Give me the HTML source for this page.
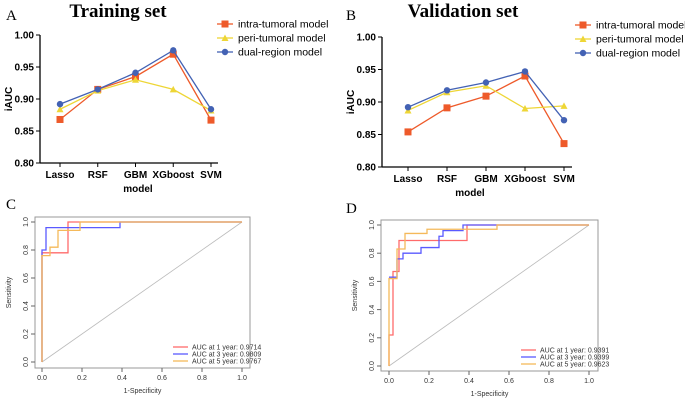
<!DOCTYPE html>
<html><head><meta charset="utf-8"><style>
html,body{margin:0;padding:0;background:#fff;}
svg{display:block;font-family:"Liberation Sans",Arial,sans-serif;}
</style></head><body>
<svg id="fig" width="685" height="400" viewBox="0 0 685 400"></svg>
<script>
const models = ["Lasso","RSF","GBM","XGboost","SVM"];
const seriesNames = ["intra-tumoral model","peri-tumoral  model","dual-region   model"];
const yTicks = [0.80,0.85,0.90,0.95,1.00];
const trainIntra = [0.868,0.915,0.935,0.970,0.867];
const trainPeri = [0.884,0.913,0.930,0.915,0.882];
const trainDual = [0.892,0.915,0.941,0.976,0.884];
const valIntra = [0.854,0.891,0.909,0.940,0.836];
const valPeri = [0.887,0.915,0.925,0.890,0.894];
const valDual = [0.892,0.918,0.930,0.947,0.872];
const rocTicks = [0,0.2,0.4,0.6,0.8,1.0];
const cRedFpr = [0,0,0.13,0.13,1]; const cRedTpr = [0,0.78,0.78,1,1];
const cBlueFpr = [0,0,0.02,0.02,0.39,0.39,1]; const cBlueTpr = [0,0.8,0.8,0.96,0.96,1,1];
const cOrgFpr = [0,0,0.04,0.04,0.08,0.08,0.19,0.19,1]; const cOrgTpr = [0,0.76,0.76,0.82,0.82,0.94,0.94,1,1];
const dRedFpr = [0,0,0.02,0.02,0.05,0.05,0.39,0.39,1]; const dRedTpr = [0,0.22,0.22,0.67,0.67,0.89,0.89,1,1];
const dBlueFpr = [0,0,0.04,0.04,0.07,0.07,0.16,0.16,0.25,0.25,0.27,0.27,0.37,0.37,1]; const dBlueTpr = [0.63,0.63,0.63,0.76,0.76,0.8,0.8,0.84,0.84,0.92,0.92,0.96,0.96,1,1];
const dOrgFpr = [0,0,0.04,0.04,0.08,0.08,0.19,0.19,0.54,0.54,1]; const dOrgTpr = [0,0.62,0.62,0.83,0.83,0.94,0.94,0.97,0.97,1,1];
const cLegend = ["AUC at 1 year: 0.9714","AUC at 3 year: 0.9809","AUC at 5 year: 0.9767"];
const dLegend = ["AUC at 1 year: 0.9391","AUC at 3 year: 0.9399","AUC at 5 year: 0.9623"];

const NS="http://www.w3.org/2000/svg", svg=document.getElementById('fig');
function el(tag,a,parent,txt){const e=document.createElementNS(NS,tag);for(const k in a)e.setAttribute(k,a[k]);if(txt!==undefined)e.textContent=txt;(parent||svg).appendChild(e);return e;}

const COLS=["#ee5a2a","#eed636","#4362b4"];
function linePanel(o){
  const g=el('g',{});
  
  
  const y=v=>o.y1+(1-(v-0.8)/0.2)*(o.y0-o.y1);
  const x=i=>o.xs[0]+i*(o.xs[1]-o.xs[0])/4;
  const t=el('text',{x:o.tx,y:17,'font-family':'Liberation Serif,serif','font-weight':'bold','font-size':19,'text-anchor':'middle'},g,o.title);
  
  const L=el('text',{x:o.lx,y:20,'font-family':'Liberation Serif,serif','font-size':15},g,o.letter);
  
  el('line',{x1:o.ax,y1:y(1.0),x2:o.ax,y2:o.y0,stroke:'#000','stroke-width':1.3},g);
  el('line',{x1:o.ax,y1:o.y0,x2:o.axEnd,y2:o.y0,stroke:'#000','stroke-width':1.3},g);
  yTicks.forEach(v=>{el('line',{x1:o.ax-4,y1:y(v),x2:o.ax,y2:y(v),stroke:'#000'},g);
    const tt=el('text',{x:o.ax-6,y:y(v)+3.5,'font-size':10,'font-weight':'bold','text-anchor':'end'},g,v.toFixed(2));
    });
  models.forEach((m,i)=>{el('line',{x1:x(i),y1:o.y0,x2:x(i),y2:o.y0+4,stroke:'#000'},g);
    const tt=el('text',{x:x(i),y:o.y0+15,'font-size':10,'font-weight':'bold','text-anchor':'middle'},g,m);
    });
  const xl=el('text',{x:o.mx,y:o.y0+29,'font-size':10,'font-weight':'bold','text-anchor':'middle'},g,'model');
  
  const yl=el('text',{x:0,y:0,'font-size':10,'font-weight':'bold','text-anchor':'middle',transform:`translate(${o.ax-28},${(y(1)+o.y0)/2}) rotate(-90)`},g,'iAUC');
  
  o.data.forEach((d,s)=>{
    const pl=el('polyline',{points:d.map((v,i)=>x(i)+','+y(v)).join(' '),fill:'none',stroke:COLS[s],'stroke-width':1.3},g);
    
    d.forEach((v,i)=>marker(g,s,x(i),y(v)));
  });
  seriesNames.forEach((n,s)=>{const ly=o.legY+s*14;
    el('line',{x1:o.legX-8,y1:ly,x2:o.legX+8,y2:ly,stroke:COLS[s],'stroke-width':1.3},g);
    marker(g,s,o.legX,ly);
    const tt=el('text',{x:o.legX+13,y:ly+3.5,'font-size':10.5},g,n);
    });
}
function marker(g,s,cx,cy){let m;
  if(s===0)m=el('rect',{x:cx-3.5,y:cy-3.5,width:7,height:7,fill:COLS[0]},g);
  else if(s===1)m=el('polygon',{points:`${cx},${cy-3.5} ${cx+3.5},${cy+3} ${cx-3.5},${cy+3}`,fill:COLS[1]},g);
  else m=el('circle',{cx:cx,cy:cy,r:3.2,fill:COLS[2]},g);
  }

linePanel({name:'panel-a-training',title:'Training  set',letter:'A',tx:118,lx:6,ax:40,axEnd:218,y0:163,y1:35,xs:[60,211],mx:138,legX:225,legY:24,data:[trainIntra,trainPeri,trainDual]});
linePanel({name:'panel-b-validation',title:'Validation  set',letter:'B',tx:463,lx:346,ax:382,axEnd:572,y0:167,y1:37,xs:[408,564],mx:470,legX:583,legY:25,data:[valIntra,valPeri,valDual]});

const RC=["#ff6b6b","#5a5aff","#f5b95a"];
function rocPanel(o){
  const g=el('g',{});
  
  
  const x=v=>o.x0+v*(o.x1-o.x0), y=v=>o.y0-v*(o.y0-o.y1);
  const L=el('text',{x:o.lx,y:o.ly,'font-family':'Liberation Serif,serif','font-size':15},g,o.letter);
  
  el('rect',{x:o.bl,y:o.bt,width:o.br-o.bl,height:o.bb-o.bt,fill:'none',stroke:'#999','stroke-width':1},g);
  el('line',{x1:x(0),y1:y(0),x2:x(1),y2:y(1),stroke:'#bbb','stroke-width':0.8},g);
  rocTicks.forEach(v=>{
    el('line',{x1:x(v),y1:o.bb,x2:x(v),y2:o.bb+4,stroke:'#666'},g);
    const a=el('text',{x:x(v),y:o.bb+12,'font-size':7,'text-anchor':'middle',fill:'#333'},g,v.toFixed(1));
    
    el('line',{x1:o.bl-4,y1:y(v),x2:o.bl,y2:y(v),stroke:'#666'},g);
    const b=el('text',{x:0,y:0,'font-size':7,'text-anchor':'middle',fill:'#333',transform:`translate(${o.bl-7},${y(v)}) rotate(-90)`},g,v.toFixed(1));
    });
  const xt=el('text',{x:(o.bl+o.br)/2,y:o.bb+25,'font-size':7,'text-anchor':'middle',fill:'#333'},g,'1-Specificity');
  
  const yt=el('text',{x:0,y:0,'font-size':7,'text-anchor':'middle',fill:'#333',transform:`translate(${o.bl-24},${(o.bt+o.bb)/2}) rotate(-90)`},g,'Sensitivity');
  
  o.curves.forEach((c,s)=>{
    const pl=el('polyline',{points:c[0].map((f,i)=>x(f)+','+y(c[1][i])).join(' '),fill:'none',stroke:RC[s],'stroke-width':1.3},g);
    });
  o.legend.forEach((t,s)=>{const ly=o.legY+s*7;
    el('line',{x1:o.legX,y1:ly,x2:o.legX+15,y2:ly,stroke:RC[s],'stroke-width':1.3},g);
    const tt=el('text',{x:o.legX+19,y:ly+2.5,'font-size':7,fill:'#333'},g,t);
    });
}
rocPanel({name:'panel-c-roc',letter:'C',lx:6,ly:209,bl:35,br:250,bt:217,bb:368,x0:42,x1:242,y0:362,y1:222,legX:173,legY:347,legend:cLegend,
  curves:[[cRedFpr,cRedTpr],[cBlueFpr,cBlueTpr],[cOrgFpr,cOrgTpr]]});
rocPanel({name:'panel-d-roc',letter:'D',lx:346,ly:213,bl:381,br:598,bt:220,bb:371,x0:389,x1:589,y0:366,y1:225,legX:521,legY:350,legend:dLegend,
  curves:[[dRedFpr,dRedTpr],[dBlueFpr,dBlueTpr],[dOrgFpr,dOrgTpr]]});
</script>
</body></html>
